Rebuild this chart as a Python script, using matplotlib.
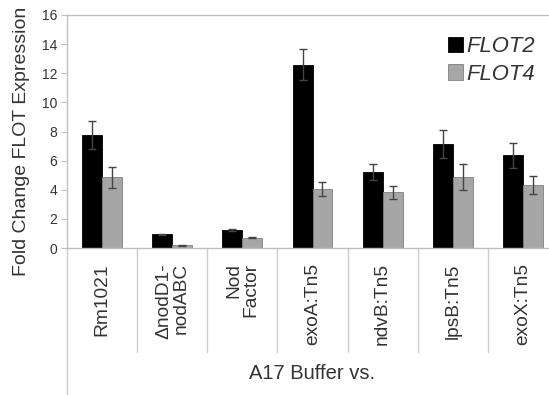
import numpy as np
import matplotlib
matplotlib.use("Agg")
from matplotlib import pyplot as plt

plt.rcParams['font.family'] = ['Liberation Sans', 'DejaVu Sans']

# data
categories = ['Rm1021', '\u0394nodD1-\nnodABC', 'Nod\nFactor', 'exoA:Tn5',
              'ndvB:Tn5', 'lpsB:Tn5', 'exoX:Tn5']
flot2 = [7.75, 0.94, 1.22, 12.6, 5.22, 7.12, 6.36]
flot2_err = [0.95, 0.05, 0.08, 1.05, 0.55, 0.95, 0.85]
flot4 = [4.85, 0.18, 0.71, 4.05, 3.82, 4.85, 4.33]
flot4_err = [0.72, 0.03, 0.05, 0.5, 0.45, 0.9, 0.6]
yticks = [0, 2, 4, 6, 8, 10, 12, 14, 16]

txt = '#333333'
grid = '#bfbfbf'

fig = plt.figure(figsize=(5.49, 3.95), dpi=100)
ax = fig.add_axes([67/549, 1-248/395, 491/549, 233/395])

x = np.arange(len(categories))
w = 0.285
ax.bar(x - w/2, flot2, w, color='black', edgecolor='black', linewidth=0.6,
       label='FLOT2', yerr=flot2_err,
       error_kw=dict(ecolor='#444444', elinewidth=1, capsize=3, capthick=1))
ax.bar(x + w/2, flot4, w, color='#a6a6a6', edgecolor='#7f7f7f', linewidth=0.6,
       label='FLOT4', yerr=flot4_err,
       error_kw=dict(ecolor='#444444', elinewidth=1, capsize=3, capthick=1))

ax.set_xlim(-0.5, len(categories) - 0.5)
ax.set_ylim(0, 16)
ax.set_yticks(yticks)
ax.tick_params(axis='y', direction='out', length=4, width=0.8, color=grid,
               labelsize=10, labelcolor=txt, pad=3)
ax.set_xticks([])

ax.spines['right'].set_visible(False)
for s in ['left', 'bottom', 'top']:
    ax.spines[s].set_color(grid)
    ax.spines[s].set_linewidth(1)

# category separators below the axis
tr = ax.get_xaxis_transform()
for b in np.arange(len(categories) + 1) - 0.5:
    ybot = -0.63 if b == -0.5 else -0.446
    ax.plot([b, b], [0, ybot], color='#cccccc', lw=1, transform=tr,
            clip_on=False)

for xi, lab in zip(x, categories):
    ax.text(xi, -0.065, lab, transform=tr, rotation=90, ha='center', va='top',
            multialignment='right', fontsize=13.8, color=txt,
            linespacing=1.0)

ax.text(3, -0.54, 'A17 Buffer vs.', transform=tr, ha='center', va='center',
        fontsize=14.5, color=txt)

fig.text(22/549, 1-141/395, 'Fold Change FLOT Expression', rotation=90,
         ha='center', va='center', fontsize=14, color=txt)

leg = ax.legend(loc='upper left', bbox_to_anchor=(448/549, 1-36/395),
                bbox_transform=fig.transFigure, frameon=False, fontsize=15.8,
                handlelength=0.7, handleheight=0.7, handletextpad=0.15,
                labelspacing=0.3, borderpad=0, borderaxespad=0)
for t in leg.get_texts():
    t.set_fontstyle('italic')
    t.set_color(txt)

fig.savefig('out.png', dpi=100)
